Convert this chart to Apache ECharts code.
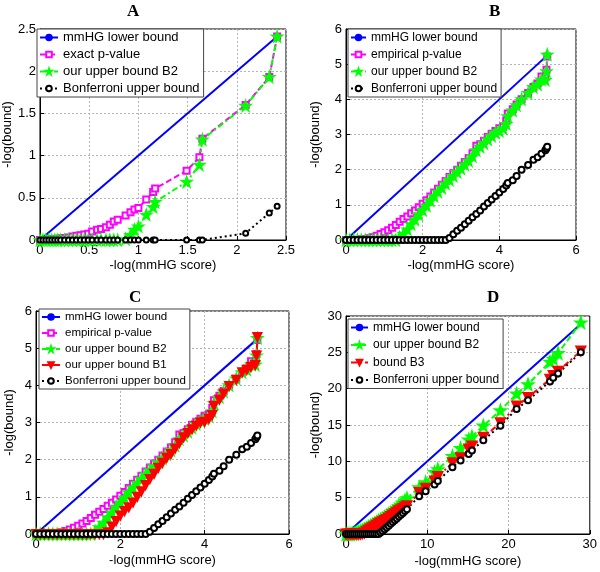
<!DOCTYPE html>
<html>
<head>
<meta charset="utf-8">
<script src="https://cdn.jsdelivr.net/npm/echarts@6.0.0/dist/echarts.min.js"></script>
<style>body{margin:0;background:#fff}#main{width:600px;height:572px}</style>
</head>
<body>
<div id="main"></div>
<script>
// panel A: exact p-value
var xA = [0, 0.03, 0.06, 0.09, 0.12, 0.15, 0.18, 0.21, 0.25, 0.29, 0.33, 0.37, 0.41, 0.45, 0.49, 0.53, 0.58, 0.62, 0.67, 0.71, 0.75, 0.79, 0.87, 0.92, 0.96, 1.0, 1.08, 1.15, 1.17, 1.49, 1.62, 1.65, 2.09, 2.33, 2.41];
var exactA = [0, 0, 0, 0.005, 0.01, 0.01, 0.015, 0.02, 0.025, 0.03, 0.04, 0.05, 0.055, 0.065, 0.075, 0.1, 0.12, 0.13, 0.15, 0.18, 0.22, 0.24, 0.29, 0.33, 0.36, 0.38, 0.48, 0.57, 0.61, 0.82, 0.98, 1.2, 1.6, 1.93, 2.41];
var b2A = [0, 0, 0, 0, 0, 0, 0, 0, 0, 0, 0, 0, 0, 0, 0, 0, 0, 0, 0, 0, 0, 0, 0.01, 0.06, 0.12, 0.16, 0.3, 0.39, 0.45, 0.69, 0.89, 1.19, 1.59, 1.93, 2.41];
var bonfA = [0, 0, 0, 0, 0, 0, 0, 0, 0, 0, 0, 0, 0, 0, 0, 0, 0, 0, 0, 0, 0, 0, 0, 0, 0, 0, 0, 0, 0, 0, 0, 0, 0.08, 0.32, 0.4];
var lowAx = [0, 2.41], lowAy = [0, 2.41];

// panels B and C: empirical p-value
var xB = [0, 0.1, 0.2, 0.3, 0.4, 0.5, 0.6, 0.7, 0.8, 0.9, 1.0, 1.1, 1.2, 1.3, 1.4, 1.5, 1.6, 1.7, 1.8, 1.9, 2.0, 2.1, 2.2, 2.3, 2.4, 2.5, 2.6, 2.7, 2.8, 2.9, 3.0, 3.1, 3.2, 3.3, 3.4, 3.5,
          3.6, 3.7, 3.8, 3.9, 4.0, 4.1, 4.18, 4.22, 4.35, 4.45, 4.58, 4.75, 4.89, 5.0, 5.1, 5.2, 5.23, 5.25];
var empB = [0, 0, 0, 0.01, 0.02, 0.03, 0.05, 0.08, 0.12, 0.17, 0.22, 0.28, 0.35, 0.43, 0.52, 0.6, 0.67, 0.76, 0.84, 0.93, 1.03, 1.13, 1.24, 1.35, 1.46, 1.57, 1.68, 1.79, 1.9, 2.0, 2.11, 2.22, 2.33, 2.47, 2.68, 2.72,
            2.82, 2.93, 3.02, 3.1, 3.18, 3.22, 3.4, 3.6, 3.72, 3.85, 4.0, 4.18, 4.35, 4.45, 4.65, 4.62, 4.84, 5.22];
var b2B = [0, 0, 0, 0, 0, 0, 0, 0, 0, 0, 0, 0, 0, 0, 0.08, 0.18, 0.3, 0.45, 0.58, 0.72, 0.85, 0.98, 1.12, 1.25, 1.37, 1.48, 1.6, 1.71, 1.82, 1.93, 2.03, 2.14, 2.25, 2.38, 2.55, 2.65,
           2.75, 2.86, 2.96, 3.05, 3.1, 3.17, 3.3, 3.52, 3.68, 3.83, 4.0, 4.18, 4.35, 4.42, 4.56, 4.55, 4.8, 5.27];
var b1C = [0, 0, 0, 0, 0, 0, 0, 0, 0, 0, 0, 0, 0, 0, 0, 0, 0, 0.05, 0.2, 0.35, 0.5, 0.62, 0.72, 0.85, 1.0, 1.15, 1.32, 1.48, 1.62, 1.78, 1.92, 2.05, 2.15, 2.3, 2.45, 2.6,
           2.72, 2.82, 2.92, 3.0, 3.02, 3.1, 3.2, 3.45, 3.62, 3.78, 3.98, 4.15, 4.35, 4.42, 4.5, 4.55, 4.8, 5.3];
var bonfB = [0, 0, 0, 0, 0, 0, 0, 0, 0, 0, 0, 0, 0, 0, 0, 0, 0, 0, 0, 0, 0, 0, 0, 0, 0, 0, 0, 0.06, 0.16, 0.26, 0.35, 0.45, 0.55, 0.65, 0.74, 0.84,
             0.95, 1.05, 1.15, 1.25, 1.35, 1.45, 1.55, 1.62, 1.7, 1.82, 2.0, 2.13, 2.28, 2.35, 2.45, 2.55, 2.6, 2.65];
var lowBx = [0, 5.25], lowBy = [0, 5.25];

// panel D
var xD = [0, 0.25, 0.5, 0.75, 1, 1.25, 1.5, 1.75, 2, 2.25, 2.5, 2.75, 3, 3.25, 3.5, 3.75, 4, 4.25, 4.5, 4.75, 5, 5.25, 5.5, 5.75, 6, 6.25, 6.5, 6.75, 7, 7.25, 7.5,
          9.0, 9.8, 10.9, 11.3, 13.1, 14.1, 15.1, 15.5, 16.9, 19.0, 21.0, 22.4, 25.1, 25.5, 26.1, 28.9];
var b2D = [0, 0, 0, 0.05, 0.1, 0.2, 0.3, 0.4, 0.5, 0.65, 0.8, 0.95, 1.1, 1.25, 1.4, 1.6, 1.8, 1.95, 2.1, 2.3, 2.5, 2.7, 2.9, 3.1, 3.3, 3.5, 3.8, 4.0, 4.3, 4.6, 4.9,
           6.4, 7.1, 8.5, 8.9, 10.7, 11.8, 13.0, 13.4, 14.9, 17.0, 19.3, 20.6, 23.7, 24.1, 24.9, 29.1];
var b3D = [0, 0, 0, 0, 0, 0, 0, 0, 0.05, 0.15, 0.3, 0.5, 0.7, 0.85, 1.0, 1.2, 1.4, 1.55, 1.7, 1.85, 2.0, 2.2, 2.4, 2.6, 2.8, 3.0, 3.2, 3.35, 3.5, 3.7, 3.9,
           5.7, 6.3, 7.3, 7.9, 9.8, 10.5, 11.7, 12.1, 13.3, 15.3, 17.6, 18.8, 21.3, 21.8, 22.4, 25.2];
var bonfD = [0, 0, 0, 0, 0, 0, 0, 0, 0, 0, 0, 0, 0, 0, 0, 0, 0, 0.2, 0.4, 0.65, 0.9, 1.15, 1.4, 1.65, 1.9, 2.15, 2.4, 2.65, 2.9, 3.15, 3.4,
             5.2, 5.9, 6.8, 7.3, 9.2, 10.1, 11.0, 11.5, 12.9, 14.9, 17.2, 18.4, 21.0, 21.5, 22.1, 25.0];
var lowDx = [0, 28.9], lowDy = [0, 28.9];

var STAR = 'path://M50,0L61.8,35.1L98.1,35.1L68.7,56.8L79.4,91L50,70L20.6,91L31.3,56.8L1.9,35.1L38.2,35.1Z';
var DASH = [6, 3], DASHDOT = [6, 3, 2, 3], DOT = [2, 3];
var FONT = 'Liberation Sans';

function pairs(xs, ys) {
    return xs.map(function (x, i) { return [x, ys[i]]; });
}

function mk(name, idx, xs, ys, color, dash, symbol, size, rot) {
    return {
        name: name, type: 'line', xAxisIndex: idx, yAxisIndex: idx,
        data: pairs(xs, ys), clip: false, animation: false,
        symbol: symbol, symbolSize: size, symbolRotate: rot || 0,
        showSymbol: symbol !== 'none',
        lineStyle: { color: color, width: 2, type: dash },
        itemStyle: { color: color, borderColor: color, borderWidth: 2 }
    };
}

function xax(idx, max, interval, gap) {
    return {
        gridIndex: idx, type: 'value', min: 0, max: max, interval: interval,
        name: '-log(mmHG score)', nameLocation: 'middle', nameGap: gap,
        nameTextStyle: { fontFamily: FONT, fontSize: 13, color: '#000' },
        axisLine: { show: true, onZero: false, lineStyle: { color: '#000' } },
        axisTick: { inside: true, length: 4, lineStyle: { color: '#000' } },
        axisLabel: { margin: 4, fontFamily: FONT, fontSize: 13, color: '#000' },
        splitLine: { show: true, lineStyle: { color: '#b4b4b4', type: [2, 2] } }
    };
}
function yax(idx, max, interval, gap) {
    var a = xax(idx, max, interval, gap);
    a.name = '-log(bound)';
    return a;
}

function legend(left, top, names, fs, rowH, gap, iw) {
    return {
        left: left, top: top, orient: 'vertical', data: names,
        selectedMode: false, itemWidth: iw, itemHeight: 7, itemGap: gap,
        padding: [2, 4, 2, 2], backgroundColor: '#fff',
        borderColor: '#444', borderWidth: 1,
        formatter: function (n) { return n.trim(); },
        textStyle: { fontFamily: FONT, fontSize: fs, lineHeight: rowH, color: '#000' }
    };
}

function title(t, left, top) {
    return { text: t, left: left, top: top, padding: 0,
        textStyle: { fontFamily: 'Liberation Serif', fontWeight: 'bold', fontSize: 17, color: '#000' } };
}

var series = [
    mk('mmHG lower bound', 0, lowAx, lowAy, '#0000ff', 'solid', 'none', 2),
    mk('exact p-value', 0, xA, exactA, '#ff00ff', DASH, 'emptyRect', 6),
    mk('our upper bound B2', 0, xA, b2A, '#00ff00', DASHDOT, STAR, 9),
    mk('Bonferroni upper bound', 0, xA, bonfA, '#000', DOT, 'emptyCircle', 5),

    mk('mmHG lower bound', 1, lowBx, lowBy, '#0000ff', 'solid', 'none', 2),
    mk('empirical p-value', 1, xB, empB, '#ff00ff', DASH, 'emptyRect', 6),
    mk('our upper bound B2', 1, xB, b2B, '#00ff00', DASHDOT, STAR, 9),
    mk('Bonferroni upper bound', 1, xB, bonfB, '#000', DOT, 'emptyCircle', 6),

    mk('mmHG lower bound', 2, lowBx, lowBy, '#0000ff', 'solid', 'none', 2),
    mk('empirical p-value', 2, xB, empB, '#ff00ff', DASH, 'emptyRect', 6),
    mk('our upper bound B2', 2, xB, b2B, '#00ff00', DASHDOT, STAR, 9),
    mk('our upper bound B1', 2, xB, b1C, '#ff0000', 'solid', 'triangle', 8, 180),
    mk('Bonferroni upper bound', 2, xB, bonfB, '#000', DOT, 'emptyCircle', 6),

    mk('mmHG lower bound', 3, lowDx, lowDy, '#0000ff', 'solid', 'none', 2),
    mk('our upper bound B2 ', 3, xD, b2D, '#00ff00', DASH, STAR, 10),
    mk('bound B3', 3, xD, b3D, '#ff0000', DASHDOT, 'triangle', 9, 180),
    mk('Bonferroni upper bound', 3, xD, bonfD, '#000', DOT, 'emptyCircle', 6)
];

var option = {
    backgroundColor: '#fff',
    animation: false,
    title: [title('A', 127, 3), title('B', 489, 3), title('C', 129, 289), title('D', 487, 289)],
    grid: [
        { left: 36, top: 29, width: 250, height: 211 },
        { left: 346, top: 29, width: 230, height: 211 },
        { left: 36, top: 311, width: 253, height: 223 },
        { left: 346, top: 316, width: 246, height: 218 }
    ].map(function (g) {
        g.show = true; g.borderColor = '#000'; g.borderWidth = 1; g.backgroundColor = '#fff';
        return g;
    }),
    xAxis: [xax(0, 2.5, 0.5, 19), xax(1, 6, 2, 19), xax(2, 6, 2, 20), xax(3, 30, 10, 21)],
    yAxis: [yax(0, 2.5, 0.5, 19), yax(1, 6, 1, 24), yax(2, 6, 1, 20), yax(3, 30, 5, 24)],
    legend: [
        legend(37, 29, ['mmHG lower bound', 'exact p-value', 'our upper bound B2', 'Bonferroni upper bound'], 13, 13, 4, 18),
        legend(348, 29, ['mmHG lower bound', 'empirical p-value', 'our upper bound B2', 'Bonferroni upper bound'], 12, 13, 4, 15),
        legend(39, 309, ['mmHG lower bound', 'empirical p-value', 'our upper bound B2', 'our upper bound B1', 'Bonferroni upper bound'], 11.5, 12, 4, 18),
        legend(348, 319, ['mmHG lower bound', 'our upper bound B2 ', 'bound B3', 'Bonferroni upper bound'], 12, 13, 4.5, 17)
    ],
    series: series
};

var chart = echarts.init(document.getElementById('main'));
chart.setOption(option);
</script>
</body>
</html>
